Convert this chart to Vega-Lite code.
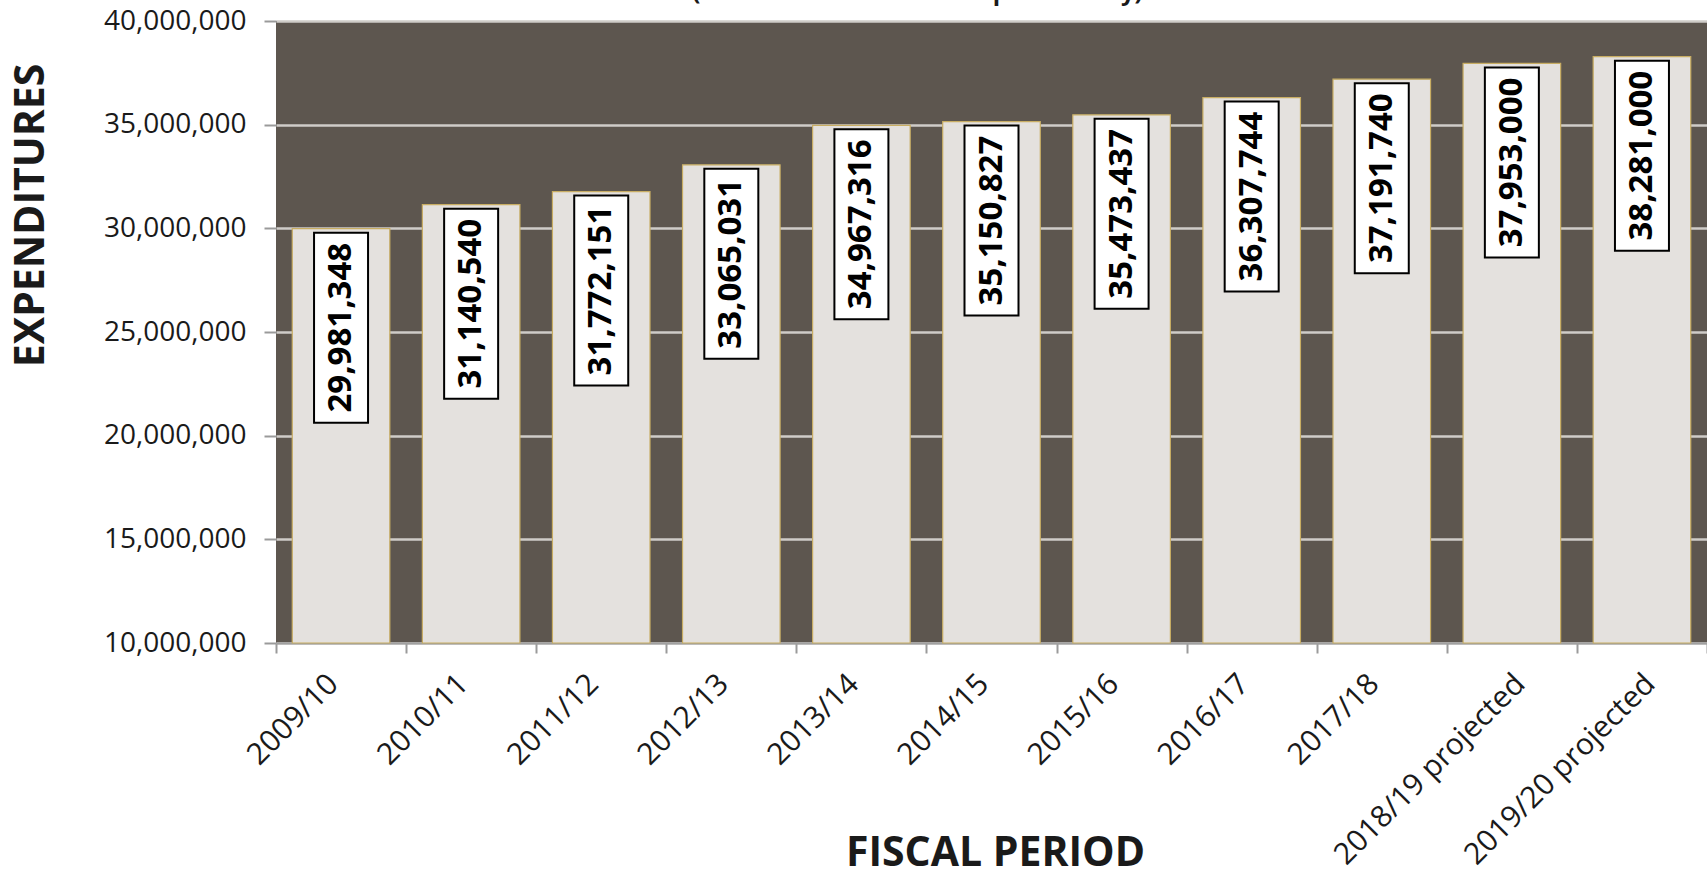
{
  "$schema": "https://vega.github.io/schema/vega-lite/v6.json",
  "autosize": {"type": "none"},
  "padding": {"left": 276, "top": 21, "right": 0, "bottom": 235},
  "width": 1431,
  "height": 622,
  "background": "white",
  "config": {"view": {"fill": "#5d564f", "stroke": null}},
  "title": {
    "text": "(Excludes Utilities and Capital Outlay)",
    "font": "Open Sans",
    "fontSize": 24,
    "fontWeight": "bold",
    "color": "#1a1a1a",
    "anchor": "middle",
    "frame": "group",
    "dx": -74,
    "dy": 18,
    "baseline": "alphabetic",
    "offset": 1
  },
  "data": {
    "values": [
      {"period": "2009/10", "expenditure": 29981348},
      {"period": "2010/11", "expenditure": 31140540},
      {"period": "2011/12", "expenditure": 31772151},
      {"period": "2012/13", "expenditure": 33065031},
      {"period": "2013/14", "expenditure": 34967316},
      {"period": "2014/15", "expenditure": 35150827},
      {"period": "2015/16", "expenditure": 35473437},
      {"period": "2016/17", "expenditure": 36307744},
      {"period": "2017/18", "expenditure": 37191740},
      {"period": "2018/19 projected", "expenditure": 37953000},
      {"period": "2019/20 projected", "expenditure": 38281000}
    ]
  },
  "encoding": {
    "x": {
      "field": "period",
      "type": "nominal",
      "sort": null,
      "scale": {"paddingInner": 0, "paddingOuter": 0},
      "axis": {
        "title": "FISCAL PERIOD",
        "grid": false,
        "labelAngle": -45,
        "labelAlign": "right",
        "labelBaseline": "middle",
        "labelFont": "Open Sans",
        "labelFontSize": 30,
        "labelColor": "#1a1a1a",
        "labelPadding": 26,
        "labelOffset": {"condition": {"test": "indexof(datum.label, 'projected') >= 0", "value": 8}, "value": -8},
        "labelLimit": 1000,
        "labelOverlap": false,
        "tickBand": "extent",
        "tickSize": 10,
        "tickColor": "#9a9a9a",
        "tickWidth": 2,
        "domainColor": "#a0a0a0",
        "domainWidth": 2,
        "titleFont": "Open Sans",
        "titleFontSize": 41,
        "titleFontWeight": "bold",
        "titleColor": "#1a1a1a",
        "titleX": 719,
        "titleY": 222,
        "titleAlign": "center",
        "titleBaseline": "alphabetic"
      }
    },
    "y": {
      "field": "expenditure",
      "type": "quantitative",
      "scale": {"domain": [10000000, 40000000], "zero": false, "nice": false},
      "axis": {
        "values": [10000000, 15000000, 20000000, 25000000, 30000000, 35000000, 40000000],
        "labelExpr": "format(datum.value, ',')",
        "labelFont": "Open Sans",
        "labelFontSize": 28,
        "labelColor": "#1a1a1a",
        "labelPadding": 18,
        "tickSize": 12,
        "tickColor": "#9a9a9a",
        "tickWidth": 2,
        "domain": false,
        "grid": true,
        "gridColor": "#cfccc8",
        "gridWidth": 2.5,
        "title": "EXPENDITURES",
        "titleFont": "Open Sans",
        "titleFontSize": 41,
        "titleFontWeight": "bold",
        "titleColor": "#1a1a1a",
        "titleAngle": 270,
        "titleX": -245,
        "titleY": 194,
        "titleAlign": "center",
        "titleBaseline": "middle"
      }
    }
  },
  "layer": [
    {
      "mark": {"type": "bar", "width": {"band": 0.75}, "fill": "#e4e1de", "stroke": "#c8ad63", "strokeWidth": 1.2},
      "encoding": {"y2": {"datum": 10000000}}
    },
    {
      "mark": {
        "type": "point",
        "shape": "M-0.27,0.04L0.27,0.04L0.27,1.94L-0.27,1.94Z",
        "size": 40000,
        "filled": true,
        "fill": "white",
        "stroke": "black",
        "strokeWidth": 2,
        "opacity": 1
      }
    },
    {
      "mark": {
        "type": "text",
        "angle": 270,
        "align": "center",
        "baseline": "middle",
        "yOffset": 99,
        "font": "Open Sans",
        "fontWeight": "bold",
        "fontSize": 33,
        "color": "black"
      },
      "encoding": {"text": {"field": "expenditure", "type": "quantitative", "format": ","}}
    }
  ]
}
